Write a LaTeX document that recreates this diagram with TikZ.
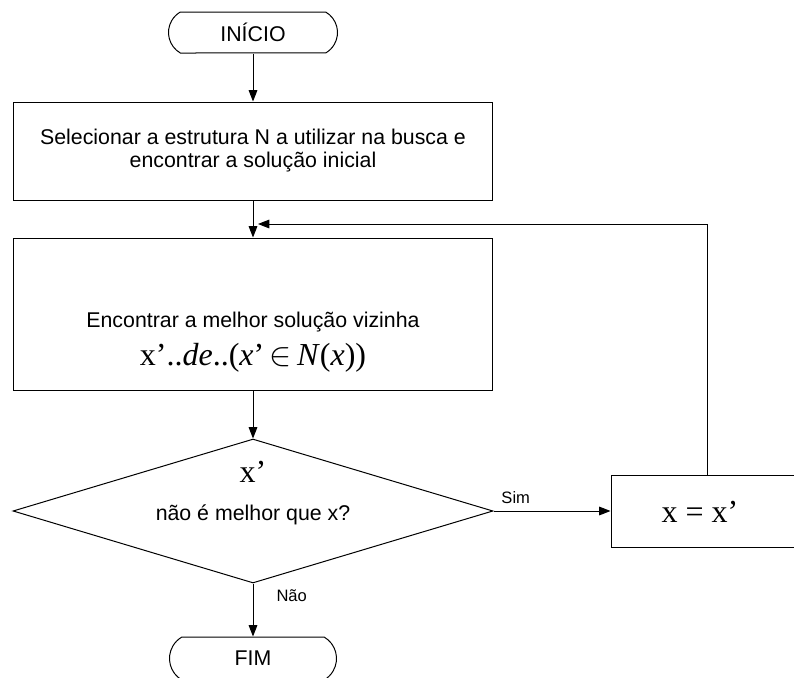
\documentclass[tikz,border=0pt]{standalone}
\usepackage{fontspec}
\setmainfont{Liberation Sans}
\newfontfamily\seriffont{Liberation Serif}
\usetikzlibrary{arrows.meta,shapes.geometric,shapes.misc}
\newcommand\maintext{\fontsize{16}{17.25}\selectfont}
\newcommand\lbltext{\fontsize{12.4}{14}\selectfont}
\newcommand\mathtext{\seriffont\fontsize{24}{26}\selectfont}
\begin{document}
\begin{tikzpicture}[x=0.75pt,y=-0.75pt,
  line width=0.75pt,
  arr/.style={-{Triangle[length=8.5pt,width=6.5pt]}},
  proc/.style={draw, rectangle, inner sep=0pt, align=center, font=\maintext},
  term/.style={draw, rounded rectangle, rounded rectangle arc length=120, inner sep=0pt, font=\maintext},
  dec/.style={draw, diamond, inner sep=0pt},
  lbl/.style={inner sep=0pt, font=\lbltext},
  txt/.style={inner sep=0pt, font=\maintext, anchor=base},
  mtxt/.style={inner sep=0pt, font=\mathtext, anchor=base}
]
\useasboundingbox (0,0) rectangle (794,678);
\node[term, minimum width=126.75pt, minimum height=30.75pt] (inicio) at (253,32.5) {INÍCIO};
\node[proc, minimum width=359.25pt, minimum height=73.5pt] (b1) at (253,151)
  {Selecionar a estrutura N a utilizar na busca e\\encontrar a solução inicial};
\node[proc, minimum width=359.25pt, minimum height=114pt] (b2) at (253,314) {};
\node[txt] (t2a) at (253,327) {Encontrar a melhor solução vizinha};
\node[mtxt] (t2b) at (253,365) {x’..\textit{de}..(\textit{x}’\,$\in$\,\textit{N}(\textit{x}))};
\node[dec, minimum width=360pt, minimum height=108pt] (dia) at (253,511) {};
\node[mtxt] (tq1) at (253,482) {x’};
\node[txt] (tq2) at (253,520) {não é melhor que x?};
\node[proc, minimum width=138.75pt, minimum height=54pt] (b3) at (703.5,511) {};
\node[mtxt] (t3) at (700,522) {x = x’};
\node[term, minimum width=125.25pt, minimum height=32.25pt] (fim) at (253,658.5) {FIM};
\coordinate (lt) at (707,224);
\coordinate (le) at (258,224);
\draw[arr] (inicio.south) -- (b1.north);
\draw[arr] (b1.south) -- (b2.north);
\draw[arr] (b2.south) -- (dia.north);
\draw[arr] (dia.east) -- node[lbl, pos=0.19, anchor=base, yshift=6pt] (sim) {Sim} (b3.west);
\draw[arr] (dia.south) -- node[lbl, pos=0.333, anchor=base west, xshift=17.25pt] (nao) {Não} (fim.north);
\draw[arr] (b3.north -| lt) -- (lt) -- (le);
\end{tikzpicture}
\end{document}
